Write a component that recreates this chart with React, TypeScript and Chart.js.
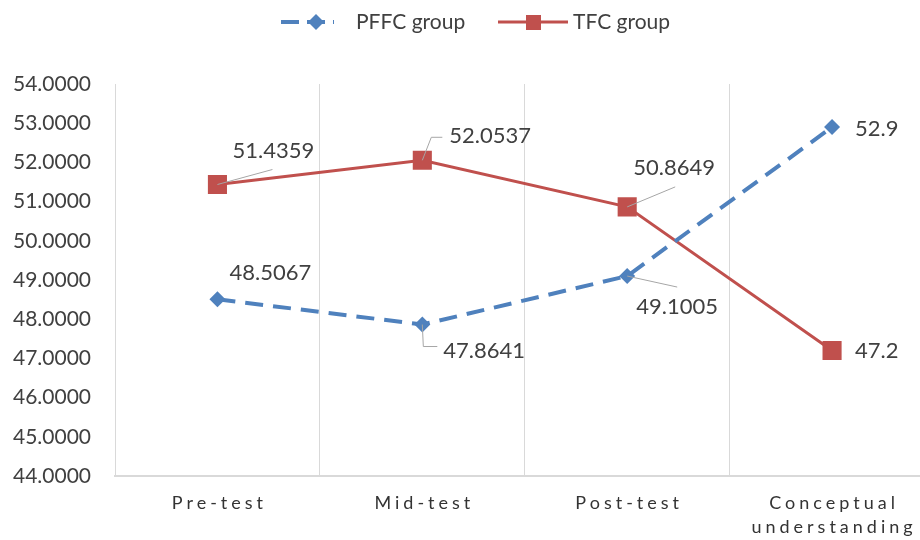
import React, { useEffect, useRef } from "react";
import { Chart, registerables } from "chart.js";

Chart.register(...registerables);

const categories: string[][] = [["Pre-test"], ["Mid-test"], ["Post-test"], ["Conceptual", "understanding"]];
const pffcValues = [48.5067, 47.8641, 49.1005, 52.9];
const tfcValues = [51.4359, 52.0537, 50.8649, 47.2];
const pffcLabels = ["48.5067", "47.8641", "49.1005", "52.9"];
const tfcLabels = ["51.4359", "52.0537", "50.8649", "47.2"];
const yMin = 44;
const yMax = 54;

// label placement (offsets from the point: text left x, text middle y, leader polyline)
const pffcLabelPos = [
  { dx: 12, dy: -26, leader: [] as number[][] },
  { dx: 21, dy: 26, leader: [[1, 22], [15, 22]] },
  { dx: 9, dy: 31, leader: [[50, 11]] },
  { dx: 23, dy: 2, leader: [] as number[][] },
];
const tfcLabelPos = [
  { dx: 15, dy: -34, leader: [[55, -15]] },
  { dx: 27, dy: -24, leader: [[9, -23], [20, -23]] },
  { dx: 6, dy: -39, leader: [[48, -20]] },
  { dx: 23, dy: 0, leader: [] as number[][] },
];

const BLUE = "#4F81BD";
const RED = "#C0504D";
const TEXT = "#404040";
const FONT = "Lato, 'Open Sans', sans-serif";

const overlayPlugin = {
  id: "overlay",
  afterDraw(chart: any) {
    const ctx: CanvasRenderingContext2D = chart.ctx;
    const xs = chart.scales.x;
    ctx.save();
    // x labels with letter spacing
    ctx.fillStyle = "#333333";
    ctx.font = `18px ${FONT}`;
    (ctx as any).letterSpacing = "4px";
    ctx.textAlign = "center";
    ctx.textBaseline = "middle";
    categories.forEach((lines, i) => {
      const x = xs.getPixelForValue(i);
      lines.forEach((ln, k) => {
        ctx.fillText(ln, x + 2, 503 + k * 24);
      });
    });
    (ctx as any).letterSpacing = "0px";

    // data labels
    const drawLabels = (dsIndex: number, labels: string[], pos: any[]) => {
      const meta = chart.getDatasetMeta(dsIndex);
      meta.data.forEach((pt: any, i: number) => {
        const p = pos[i];
        if (p.leader.length) {
          ctx.strokeStyle = "#A6A6A6";
          ctx.lineWidth = 1;
          ctx.beginPath();
          ctx.moveTo(pt.x, pt.y);
          p.leader.forEach((q: number[]) => ctx.lineTo(pt.x + q[0], pt.y + q[1]));
          ctx.stroke();
        }
        ctx.fillStyle = TEXT;
        ctx.font = `22px ${FONT}`;
        ctx.textAlign = "left";
        ctx.textBaseline = "middle";
        ctx.fillText(labels[i], pt.x + p.dx, pt.y + p.dy);
      });
    };
    drawLabels(0, pffcLabels, pffcLabelPos);
    drawLabels(1, tfcLabels, tfcLabelPos);

    // legend
    const ly = 22;
    ctx.setLineDash([18, 8]);
    ctx.strokeStyle = BLUE;
    ctx.lineWidth = 4;
    ctx.beginPath();
    ctx.moveTo(281, ly);
    ctx.lineTo(334, ly);
    ctx.stroke();
    ctx.setLineDash([]);
    ctx.fillStyle = BLUE;
    ctx.beginPath();
    ctx.moveTo(316, ly - 8);
    ctx.lineTo(324, ly);
    ctx.lineTo(316, ly + 8);
    ctx.lineTo(308, ly);
    ctx.closePath();
    ctx.fill();
    ctx.fillStyle = TEXT;
    ctx.font = `21px ${FONT}`;
    ctx.textAlign = "left";
    ctx.textBaseline = "middle";
    ctx.fillText("PFFC group", 356, ly);

    ctx.strokeStyle = RED;
    ctx.lineWidth = 3;
    ctx.beginPath();
    ctx.moveTo(498, ly);
    ctx.lineTo(568, ly);
    ctx.stroke();
    ctx.fillStyle = RED;
    ctx.fillRect(526, ly - 7, 15, 15);
    ctx.fillStyle = TEXT;
    ctx.fillText("TFC group", 573, ly);
    ctx.restore();
  },
};

export default function App() {
  const ref = useRef<HTMLCanvasElement | null>(null);
  useEffect(() => {
    if (!ref.current) return;
    const chart = new Chart(ref.current, {
      type: "line",
      data: {
        labels: categories.map((c) => c.join(" ")),
        datasets: [
          {
            label: "PFFC group",
            data: pffcValues,
            borderColor: BLUE,
            backgroundColor: BLUE,
            borderWidth: 4,
            borderDash: [18, 10],
            pointStyle: "rectRot",
            pointRadius: 8,
            pointBorderWidth: 0,
            tension: 0,
          },
          {
            label: "TFC group",
            data: tfcValues,
            borderColor: RED,
            backgroundColor: RED,
            borderWidth: 3,
            pointStyle: "rect",
            pointRadius: 13.5,
            pointBorderWidth: 0,
            tension: 0,
          },
        ],
      },
      options: {
        responsive: false,
        animation: false,
        layout: { padding: { top: 84, right: 5, left: 0, bottom: 0 } },
        plugins: { legend: { display: false }, tooltip: { enabled: false } },
        scales: {
          x: {
            offset: true,
            grid: { offset: true, color: "#D9D9D9", lineWidth: 1, drawTicks: false },
            border: { color: "#D9D9D9", width: 2 },
            ticks: { display: false },
            afterFit: (s: any) => {
              s.height = 64;
            },
          },
          y: {
            min: yMin,
            max: yMax,
            grid: { display: false, drawTicks: false },
            border: { display: false },
            ticks: {
              stepSize: 1,
              padding: 24,
              color: TEXT,
              font: { family: FONT, size: 21 },
              callback: (v: any) => Number(v).toFixed(4),
            },
            afterFit: (s: any) => {
              s.width = 115;
            },
          },
        },
      },
      plugins: [overlayPlugin],
    });
    return () => chart.destroy();
  }, []);
  return (
    <div style={{ position: "fixed", left: 0, top: 0, width: 920, height: 540, overflow: "hidden", background: "#fff" }}>
      <canvas ref={ref} width={948} height={540} style={{ display: "block" }} />
    </div>
  );
}
